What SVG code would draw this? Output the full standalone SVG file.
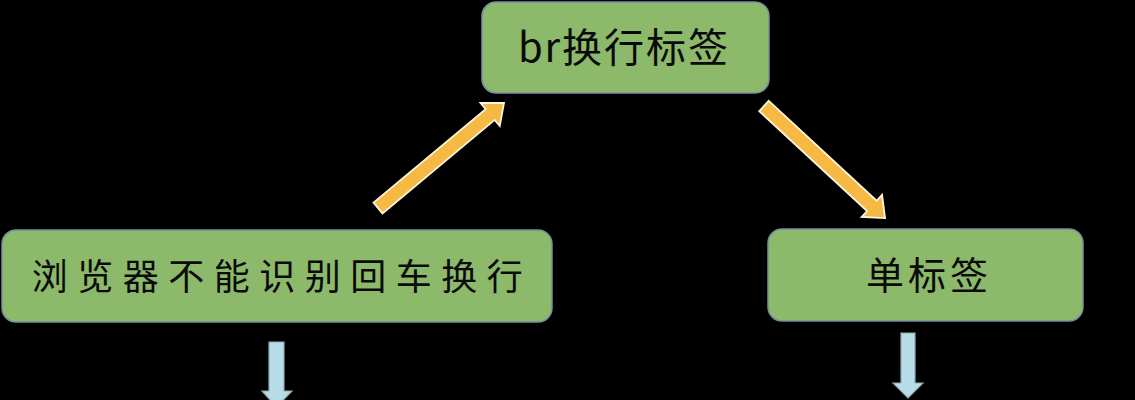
<svg xmlns="http://www.w3.org/2000/svg" width="1135" height="400" viewBox="0 0 1135 400">
<style>
.box{fill:#8DB96A;stroke:#7390A2;stroke-width:1.5}
.lbl{font-family:"Noto Sans CJK SC","Liberation Sans",sans-serif;fill:#0a0a0a;text-anchor:middle}
.ya{fill:#F5B944;stroke:#FFF6E0;stroke-width:1.8;stroke-linejoin:miter}
.ba{fill:#B7DEE8;stroke:#8FA9B0;stroke-width:1.2}
</style>
<rect width="1135" height="400" fill="#000"/>
<g id="connectors">
<polygon class="ya" transform="translate(378,208) rotate(-39.8)" points="0,-7 146,-7 146,-15 164,0 146,15 146,7 0,7"/>
<polygon class="ya" transform="translate(764,106) rotate(42.8)" points="0,-7 147,-7 147,-15 165,0 147,15 147,7 0,7"/>
<polygon class="ba" points="269,342 284,342 284,391 292,391 276.5,407 262,391 269,391"/>
<polygon class="ba" points="901,333 915,333 915,383 923,383 908,398 893,383 901,383"/>
</g>
<g id="node-br">
<rect class="box" x="482" y="2" width="287" height="91" rx="14"/>
<text class="lbl" x="624" y="62" font-size="40" letter-spacing="2">br换行标签</text>
</g>
<g id="node-browser">
<rect class="box" x="2" y="230" width="550" height="92" rx="14"/>
<text class="lbl" x="282" y="290" font-size="36" letter-spacing="9.5">浏览器不能识别回车换行</text>
</g>
<g id="node-single">
<rect class="box" x="768" y="229" width="315" height="92" rx="14"/>
<text class="lbl" x="929" y="289" font-size="38" letter-spacing="4">单标签</text>
</g>
</svg>
